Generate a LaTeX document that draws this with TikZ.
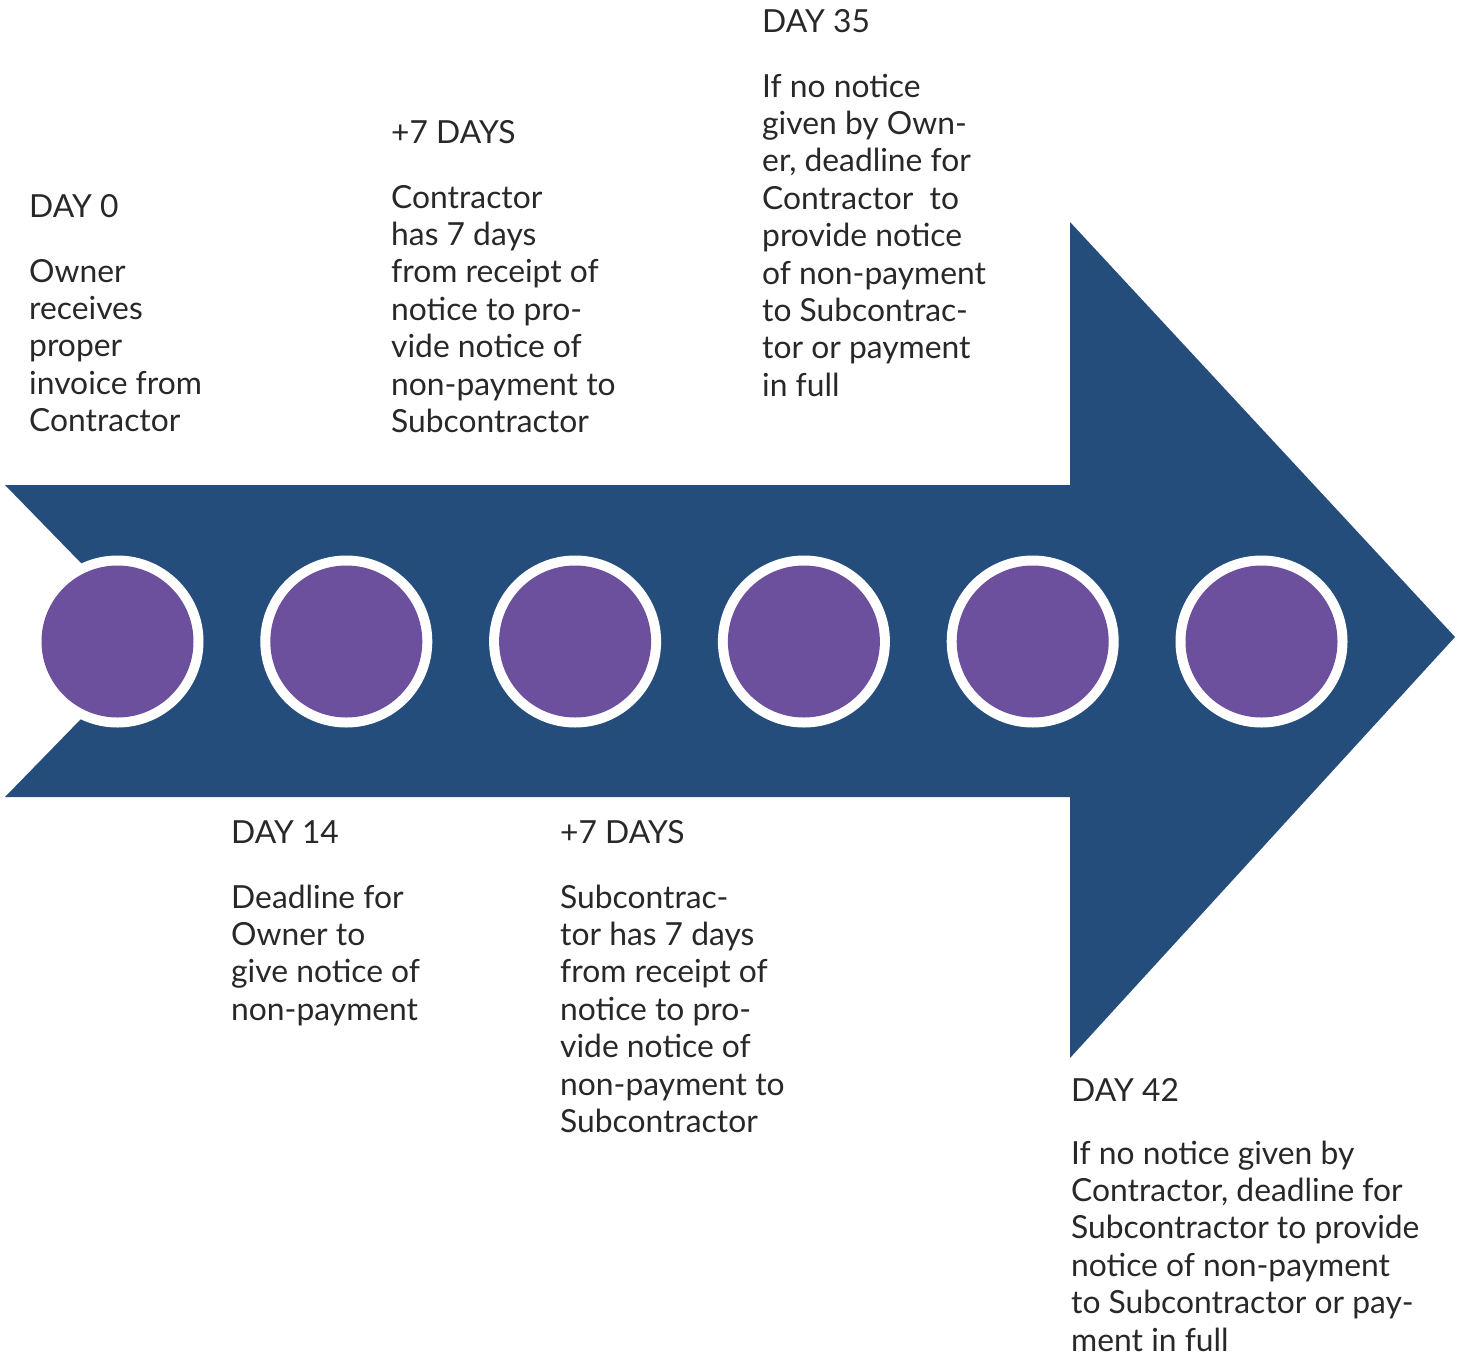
\documentclass[tikz,border=0pt]{standalone}
\usepackage{fontspec}
\setmainfont{Lato}
\definecolor{arrowblue}{RGB}{36,77,123}
\definecolor{dotpurple}{RGB}{108,80,158}
\definecolor{txtgray}{RGB}{40,40,40}
\newcommand{\myline}[1]{\hbox{#1}}
\newcommand{\mystack}[1]{\vtop{\baselineskip=37.4pt\lineskiplimit=-100pt\lineskip=0pt #1}}
\tikzset{
  txtnode/.style={anchor=base west, inner sep=0pt, text=txtgray, font=\fontsize{31.8}{37.4}\selectfont},
  dotring/.style={circle, fill=white, minimum size=172pt, inner sep=0pt},
  dotfill/.style={circle, fill=dotpurple, minimum size=152pt, inner sep=0pt}
}
\begin{document}
\begin{tikzpicture}[x=1pt, y=-1pt]
\useasboundingbox (0,0) rectangle (1461,1354);
% big arrow
\fill[arrowblue] (5,485) -- (1070,485) -- (1070,222) -- (1455,637) -- (1070,1058)
  -- (1070,797) -- (5,797) -- (157,641) -- cycle;
% dots
\foreach \i/\x in {1/117.5, 2/346.3, 3/575.1, 4/803.9, 5/1032.7, 6/1261.5} {
  \node[dotring] (ring\i) at (\x,641.5) {};
  \node[dotfill] (dot\i) at (\x,641.5) {};
}
% texts above
\node[txtnode] (t0) at (29,217) {DAY 0};
\node[txtnode] (b0) at (29,282) {\mystack{\myline{Owner}\myline{receives}\myline{proper}\myline{invoice from}\myline{Contractor}}};
\node[txtnode] (t7a) at (391,143) {+7 DAYS};
\node[txtnode] (b7a) at (391,208) {\mystack{\myline{Contractor}\myline{has 7 days}\myline{from receipt of}\myline{notice to pro-}\myline{vide notice of}\myline{non-payment to}\myline{Subcontractor}}};
\node[txtnode] (t35) at (762,33) {DAY 35};
\node[txtnode] (b35) at (762,97) {\mystack{\myline{If no notice}\myline{given by Own-}\myline{er, deadline for}\myline{Contractor\ \ to}\myline{provide notice}\myline{of non-payment}\myline{to Subcontrac-}\myline{tor or payment}\myline{in full}}};
% texts below
\node[txtnode] (t14) at (231,843) {DAY 14};
\node[txtnode] (b14) at (231,908) {\mystack{\myline{Deadline for}\myline{Owner to}\myline{give notice of}\myline{non-payment}}};
\node[txtnode] (t7b) at (560,843) {+7 DAYS};
\node[txtnode] (b7b) at (560,908) {\mystack{\myline{Subcontrac-}\myline{tor has 7 days}\myline{from receipt of}\myline{notice to pro-}\myline{vide notice of}\myline{non-payment to}\myline{Subcontractor}}};
\node[txtnode] (t42) at (1071,1101) {DAY 42};
\node[txtnode] (b42) at (1071,1164) {\mystack{\myline{If no notice given by}\myline{Contractor, deadline for}\myline{Subcontractor to provide}\myline{notice of non-payment}\myline{to Subcontractor or pay-}\myline{ment in full}}};
\end{tikzpicture}
\end{document}
